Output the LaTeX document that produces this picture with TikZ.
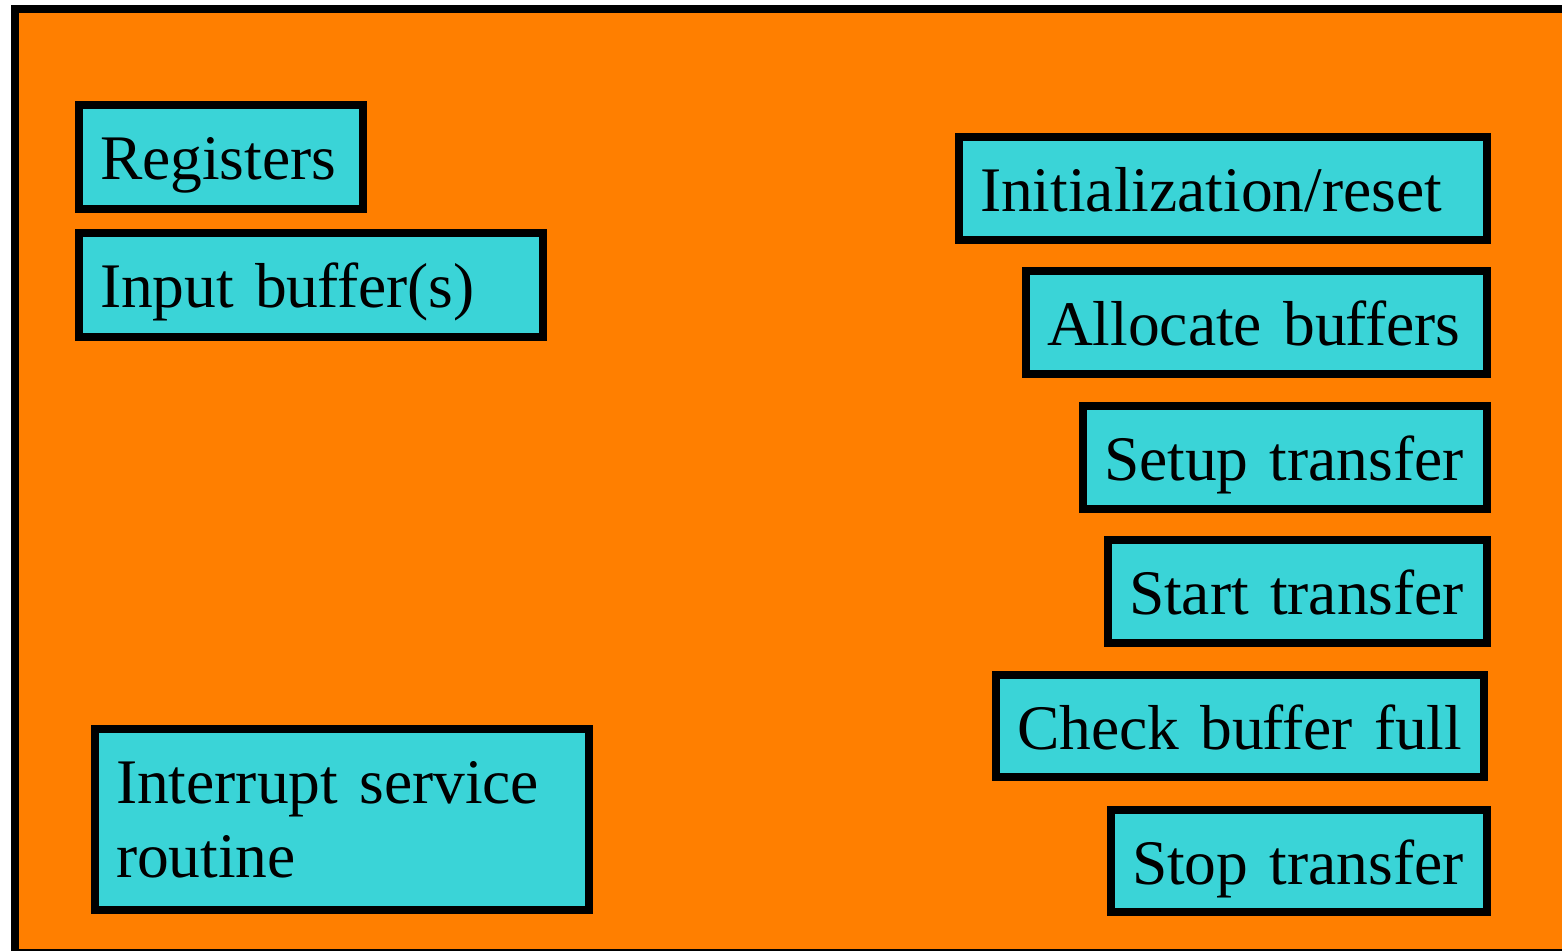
\documentclass[tikz,border=0pt]{standalone}
\usepackage{fontspec}
\setmainfont{Liberation Serif}
\definecolor{bgorange}{HTML}{FF7F00}
\definecolor{boxcyan}{HTML}{3AD4D7}
\newcommand{\boxfont}{\fontsize{63.5}{74}\selectfont\spaceskip=10.5pt\relax\hyphenpenalty=10000\relax}
\tikzset{
  panel/.style={fill=bgorange, draw=black, line width=8pt},
  box/.style={draw=black, line width=8pt, fill=boxcyan, anchor=north west,
    outer sep=0pt, inner xsep=21pt, inner ysep=0pt, text height=74pt,
    align=left, font=\boxfont}
}
\begin{document}
\begin{tikzpicture}[x=1pt, y=-1pt]
\clip (0,0) rectangle (1562,950);
\path[panel] (15,9) rectangle (1580,952.5);
\node[box, text width=242pt, text depth=30pt] (reg) at (79,105) {\mbox{Registers}};
\node[box, text width=422pt, text depth=30pt] (inb) at (79,233) {\mbox{Input bu\kern-1.5pt ffer(s)}};
\node[box, text width=452pt, text depth=106.5pt] (isr) at (95,729) {\mbox{Interrupt service}\\\mbox{routine}};
\node[box, text width=486pt, text depth=29pt] (init) at (959,137) {\mbox{Initialization/reset}};
\node[box, text width=419pt, text depth=29pt] (alloc) at (1026,271) {\mbox{Allocate bu\kern-1.5pt ffers}};
\node[box, text width=362pt, text depth=29pt] (setup) at (1083,406) {\mbox{Setup transfer}};
\node[box, text width=337pt, text depth=29pt] (start) at (1108,540) {\mbox{Start transfer}};
\node[box, text width=446pt, text depth=28pt] (check) at (996,675) {\mbox{Check bu\kern-1.5pt ffer full}};
\node[box, text width=334pt, text depth=28pt] (stop) at (1111,810) {\mbox{Stop transfer}};
\end{tikzpicture}
\end{document}
